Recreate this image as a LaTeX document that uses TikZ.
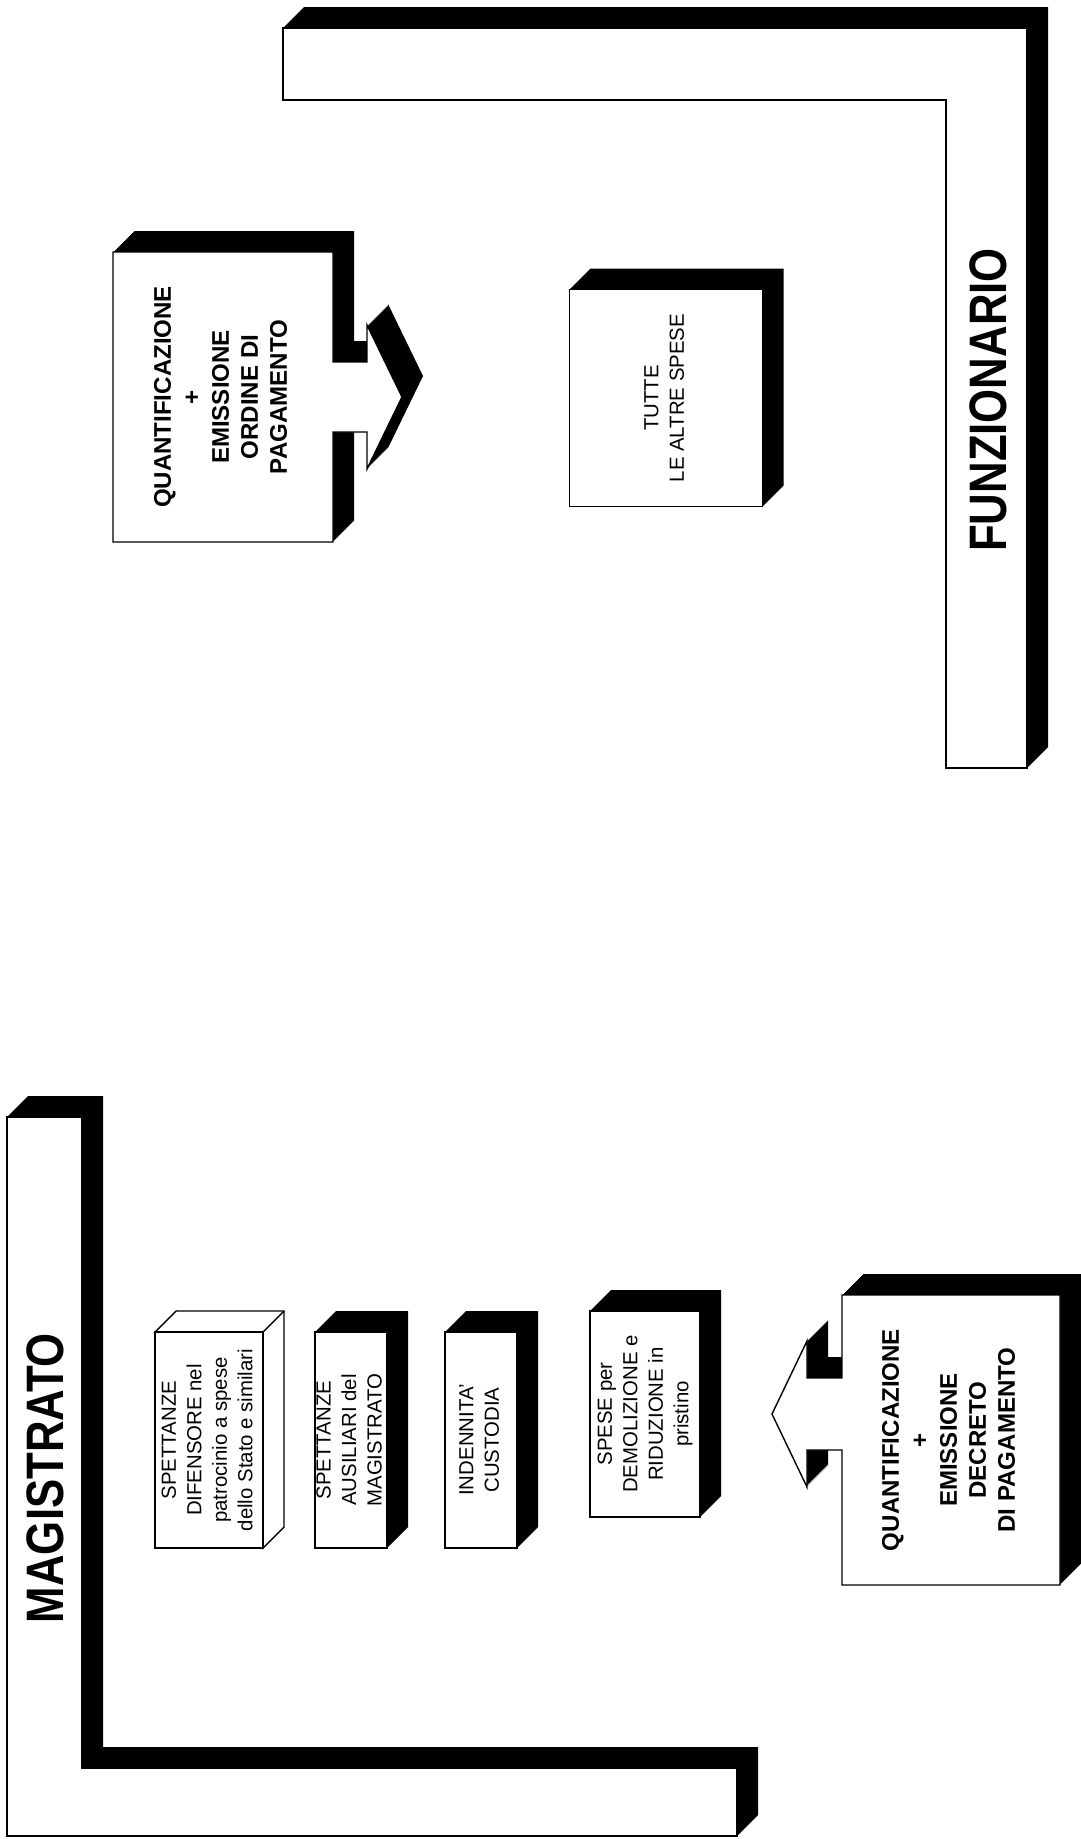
\documentclass[tikz,border=0pt]{standalone}
\usepackage{fontspec}
\setmainfont{Liberation Sans}
\newfontfamily\titlefont{Liberation Sans}[FakeStretch=0.83]
\usetikzlibrary{calc,backgrounds}

\newlength{\px}\setlength{\px}{0.02cm}
\newcommand{\vtext}[1]{\makebox[0pt]{\rotatebox{90}{\begin{tabular}{@{}c@{}}#1\end{tabular}}}}

\tikzset{
  ombra/.style={fill=black},
  faccia/.style={draw=black, fill=white, line width=0.8pt},
  spesa/.style={faccia, inner sep=0pt, outer sep=0pt, font=\fontsize{11.6pt}{14.5pt}\selectfont},
  callout/.style={font=\bfseries\fontsize{13.7pt}{16.5pt}\selectfont},
  titolo/.style={font=\titlefont\bfseries\fontsize{30pt}{36pt}\selectfont},
}

\begin{document}
\begin{tikzpicture}[x=1\px, y=-1\px]
\useasboundingbox (0,0) rectangle (1080,1839);

\fill[ombra] (283,28) -- (304,7) -- (1048,7) -- (1048,747) -- (1027,768) -- (946,768) -- (946,100) -- (283,100) -- cycle;
\draw[faccia] (283,28) -- (1027,28) -- (1027,768) -- (946,768) -- (946,100) -- (283,100) -- cycle;
\node[titolo] (funzionario) at (988,400) {\rotatebox{90}{FUNZIONARIO}};

\fill[ombra] (7,1117) -- (28,1096) -- (103,1096) -- (103,1747) -- (758,1747) -- (758,1815) -- (737,1836) -- (7,1836) -- cycle;
\draw[faccia] (7,1117) -- (82,1117) -- (82,1768) -- (737,1768) -- (737,1836) -- (7,1836) -- cycle;
\node[titolo] (magistrato) at (45,1478) {\rotatebox{90}{MAGISTRATO}};

% box con freccia
\foreach \s in {1,...,21}
  \fill[ombra, shift={(\s,-\s)}] (113,252) -- (333,252) -- (333,362) -- (367,362) -- (367,325) -- (402,397) -- (367,469) -- (367,432) -- (333,432) -- (333,542) -- (113,542) -- cycle;
\draw[faccia] (113,252) -- (333,252) -- (333,362) -- (367,362) -- (367,325) -- (402,397) -- (367,469) -- (367,432) -- (333,432) -- (333,542) -- (113,542) -- cycle;
\node[callout] (ordine) at (223,397) {\vtext{QUANTIFICAZIONE\\+\\EMISSIONE\\ORDINE DI\\PAGAMENTO}};

\foreach \s in {1,...,21}
  \fill[ombra, shift={(\s,-\s)}] (842,1295) -- (1060,1295) -- (1060,1585) -- (842,1585) -- (842,1450) -- (807,1450) -- (807,1487) -- (772,1414) -- (807,1341) -- (807,1378) -- (842,1378) -- cycle;
\draw[faccia] (842,1295) -- (1060,1295) -- (1060,1585) -- (842,1585) -- (842,1450) -- (807,1450) -- (807,1487) -- (772,1414) -- (807,1341) -- (807,1378) -- (842,1378) -- cycle;
\node[callout] (decreto) at (951,1440) {\vtext{QUANTIFICAZIONE\\+\\EMISSIONE\\DECRETO\\DI PAGAMENTO}};

\node[spesa, minimum width=193\px, minimum height=217\px] (altre) at (666,398) {\vtext{TUTTE\\LE ALTRE SPESE}};
\node[spesa, minimum width=108\px, minimum height=216\px] (difensore) at (209,1440) {\vtext{SPETTANZE\\DIFENSORE nel\\patrocinio a spese\\dello Stato e similari}};
\node[spesa, minimum width=72\px, minimum height=216\px] (ausiliari) at (351,1440) {\vtext{SPETTANZE\\AUSILIARI del\\MAGISTRATO}};
\node[spesa, minimum width=72\px, minimum height=216\px] (custodia) at (481,1440) {\vtext{INDENNITA'\\CUSTODIA}};
\node[spesa, minimum width=110\px, minimum height=206\px] (demolizione) at (645,1414) {\vtext{SPESE per\\DEMOLIZIONE e\\RIDUZIONE in\\pristino}};

\begin{scope}[on background layer]
\foreach \b in {altre, ausiliari, custodia, demolizione}
  \fill[ombra] (\b.south west) -- (\b.north west) -- ++(21,-21) -| ($(\b.south east)+(21,-21)$) -- (\b.south east) -- cycle;
\draw[faccia] (difensore.north west) -- ++(21,-21) -| ($(difensore.south east)+(21,-21)$) -- (difensore.south east) -- (difensore.north east) -- cycle;
\draw[line width=0.8pt] (difensore.north east) -- ++(21,-21);
\end{scope}
\end{tikzpicture}
\end{document}
